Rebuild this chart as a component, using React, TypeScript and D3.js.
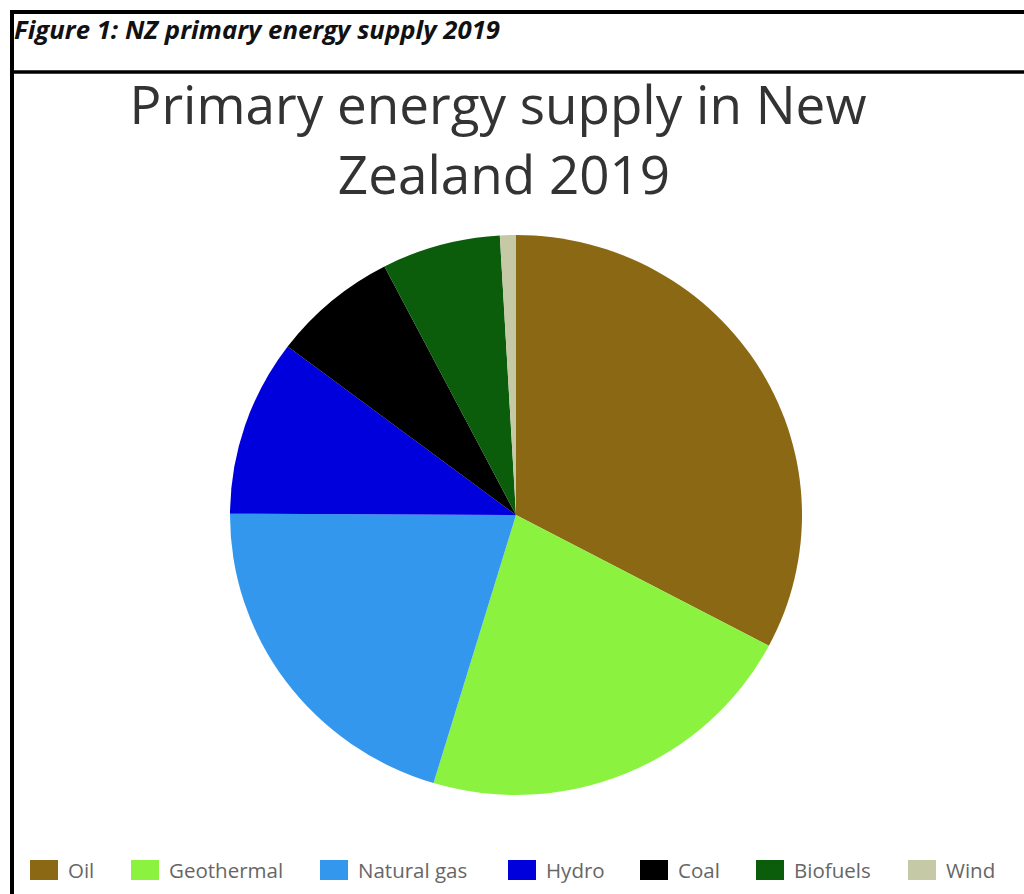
import React from "react";
import * as d3 from "d3";

const categories = ["Oil", "Geothermal", "Natural gas", "Hydro", "Coal", "Biofuels", "Wind"];
const values = [32.7, 21.9, 20.4, 10.2, 7.1, 6.7, 0.9];
const colors = ["#8b6914", "#8cf240", "#3497ee", "#0000dd", "#000000", "#0b5c0b", "#c5c9a5"];
const legendX = [30, 131, 320, 508, 640, 756, 908];

export default function App() {
  const W = 1024, H = 894;
  const cx = 516, cy = 515, r = 286, ry = 280;
  const pie = d3.pie<number>().sort(null).value((d) => d);
  const arcs = pie(values);
  const arc = d3.arc<d3.PieArcDatum<number>>().innerRadius(0).outerRadius(r);
  return (
    <svg width={W} height={H} style={{ position: "absolute", left: 0, top: 0 }}>
      <rect x={0} y={0} width={W} height={H} fill="#fff" />
      <line x1={10} x2={W} y1={12} y2={12} stroke="#000" strokeWidth={4} />
      <line x1={12} x2={12} y1={10} y2={H} stroke="#000" strokeWidth={4} />
      <line x1={10} x2={W} y1={72} y2={72} stroke="#000" strokeWidth={3.5} />
      <text x={14} y={39} fontFamily="Open Sans" fontWeight="bold" fontStyle="italic" fontSize={25.5} fill="#111" textLength={486} lengthAdjust="spacingAndGlyphs">
        Figure 1: NZ primary energy supply 2019
      </text>
      <g fontFamily="Open Sans" fontSize={53} fill="#333" textAnchor="middle">
        <text x={498} y={124}>Primary energy supply in New</text>
        <text x={504} y={194}>Zealand 2019</text>
      </g>
      <g transform={`translate(${cx},${cy}) scale(1,${ry / r})`}>
        {arcs.map((a, i) => (
          <path key={categories[i]} d={arc(a) || ""} fill={colors[i]} />
        ))}
      </g>
      <g fontFamily="Open Sans" fontSize={20.5} fill="#666">
        {categories.map((c, i) => (
          <g key={c}>
            <rect x={legendX[i]} y={860} width={28} height={20} fill={colors[i]} />
            <text x={legendX[i] + 38} y={878}>{c}</text>
          </g>
        ))}
      </g>
    </svg>
  );
}
